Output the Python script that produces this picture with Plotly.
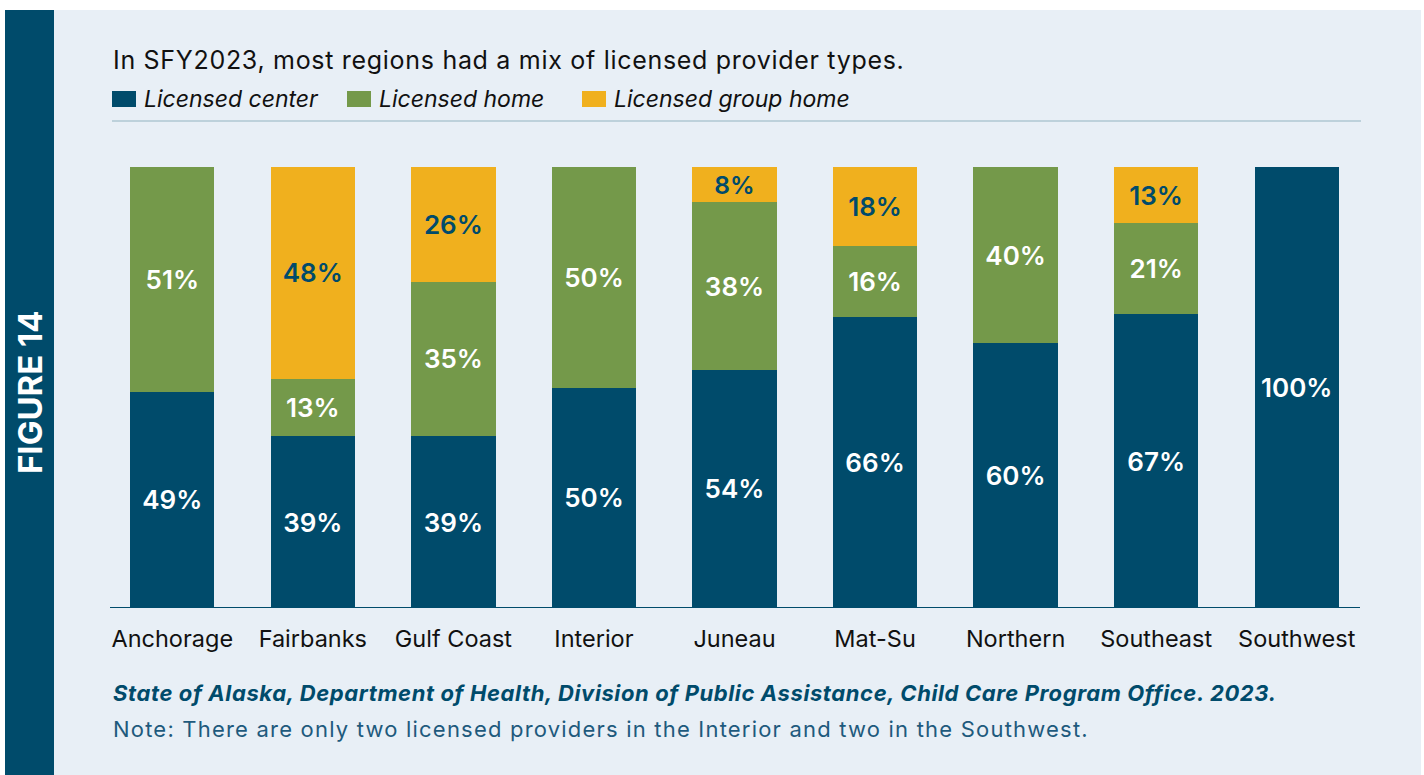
import plotly.graph_objects as go

regions = ["Anchorage", "Fairbanks", "Gulf Coast", "Interior", "Juneau",
           "Mat-Su", "Northern", "Southeast", "Southwest"]
licensed_center = [49, 39, 39, 50, 54, 66, 60, 66.6, 100]
licensed_home = [51, 13, 35, 50, 38, 16, 40, 20.6, None]
licensed_group_home = [None, 48, 26, None, 8, 18, None, 12.8, None]

series_names = ["Licensed center", "Licensed home", "Licensed group home"]
series_values = [licensed_center, licensed_home, licensed_group_home]
series_colors = ["#004B6B", "#74994A", "#F0B01E"]
label_colors = ["#FFFFFF", "#FFFFFF", "#004B6B"]

title_text = "In SFY2023, most regions had a mix of licensed provider types."
source_text = ("State of Alaska, Department of Health, Division of Public Assistance, "
               "Child Care Program Office. 2023.")
note_text = "Note: There are only two licensed providers in the Interior and two in the Southwest."
figure_label = "FIGURE 14"

FONT = "Inter, 'Noto Sans', sans-serif"
NAVY = "#004B6B"
PANEL = "#E8EFF6"

W, H = 1424, 775
ML, MR, MT, MB = 102, 57, 167, 167
PW, PH = W - ML - MR, H - MT - MB


def px(x):
    return (x - ML) / PW


def py(y):
    return (H - MB - y) / PH


fig = go.Figure()
for name, vals, col, lcol in zip(series_names, series_values, series_colors, label_colors):
    fig.add_trace(go.Bar(
        x=regions, y=vals, name=name, marker=dict(color=col, line=dict(width=0)),
        texttemplate="%{y:.0f}%", textposition="inside", insidetextanchor="middle",
        textangle=0,
        textfont=dict(family=FONT, size=26, color=lcol, weight=600),
        showlegend=False, hoverinfo="skip",
    ))

shapes = [
    dict(type="rect", xref="paper", yref="paper", x0=px(54), x1=px(1421), y0=py(10), y1=py(775),
         fillcolor=PANEL, line=dict(width=0), layer="below"),
    dict(type="rect", xref="paper", yref="paper", x0=px(5), x1=px(54), y0=py(10), y1=py(775),
         fillcolor=NAVY, line=dict(width=0), layer="below"),
    dict(type="line", xref="paper", yref="paper", x0=px(112), x1=px(1361), y0=py(121), y1=py(121),
         line=dict(color="#BDD1DB", width=2), layer="below"),
    dict(type="line", xref="paper", yref="y", x0=px(110), x1=px(1360), y0=0, y1=0,
         line=dict(color=NAVY, width=2), layer="above"),
]

annotations = [
    dict(text=title_text, xref="paper", yref="paper", x=px(111), y=py(60), xanchor="left",
         yanchor="middle", align="left", showarrow=False,
         font=dict(family=FONT, size=25, color="#111111")),
    dict(text=source_text, xref="paper", yref="paper", x=px(111), y=py(693), xanchor="left",
         yanchor="middle", align="left", showarrow=False,
         font=dict(family=FONT, size=22, color=NAVY, weight=700, style="italic")),
    dict(text=note_text, xref="paper", yref="paper", x=px(111), y=py(729), xanchor="left",
         yanchor="middle", align="left", showarrow=False,
         font=dict(family=FONT, size=22, color="#1E5A7D")),
    dict(text=figure_label, xref="paper", yref="paper", x=px(30), y=py(392), xanchor="center",
         yanchor="middle", showarrow=False, textangle=-90,
         font=dict(family=FONT, size=33, color="#FFFFFF", weight=700)),
]

leg_x = [112, 347, 582]
for name, col, lx in zip(series_names, series_colors, leg_x):
    shapes.append(dict(type="rect", xref="paper", yref="paper", x0=px(lx), x1=px(lx + 24),
                       y0=py(107), y1=py(91), fillcolor=col, line=dict(width=0)))
    annotations.append(dict(text=name, xref="paper", yref="paper", x=px(lx + 30), y=py(99),
                            xanchor="left", yanchor="middle", align="left", showarrow=False,
                            font=dict(family=FONT, size=23, color="#111111", style="italic")))

fig.update_layout(
    width=W, height=H, autosize=False,
    margin=dict(l=ML, r=MR, t=MT, b=MB, pad=0),
    barmode="stack", bargap=0.4,
    paper_bgcolor="#FFFFFF", plot_bgcolor="rgba(0,0,0,0)",
    shapes=shapes, annotations=annotations,
    xaxis=dict(showgrid=False, zeroline=False, showline=False, ticks="",
               ticklabelstandoff=14,
               tickfont=dict(family=FONT, size=23.5, color="#111111"), fixedrange=True),
    yaxis=dict(range=[0, 100], showgrid=False, zeroline=False, showline=False,
               showticklabels=False, ticks="", fixedrange=True),
    showlegend=False,
)

post = """
document.body.style.margin='0';document.body.style.overflow='hidden';
(function(){
  var sp=[['In SFY2023','0.7px'],['State of','0.6px'],['Note:','1.2px']];
  function apply(){
    document.querySelectorAll('.annotation-text').forEach(function(t){
      sp.forEach(function(s){ if(t.textContent.indexOf(s[0])===0){ t.style.letterSpacing=s[1]; } });
    });
  }
  apply();
  var gd=document.getElementById('{plot_id}');
  if(gd && gd.on){ gd.on('plotly_afterplot', apply); }
})();
"""

fig.write_html("out.html", config={"displayModeBar": False}, post_script=post)
